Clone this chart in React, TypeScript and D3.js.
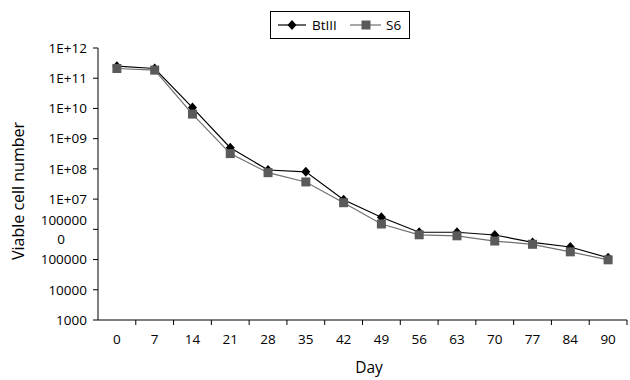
import React from 'react';
import * as d3 from 'd3';

const days = ['0', '7', '14', '21', '28', '35', '42', '49', '56', '63', '70', '77', '84', '90'];
const btIII = [2.5e11, 2.1e11, 1.07e10, 5e8, 9.2e7, 8e7, 9.5e6, 2.5e6, 8e5, 8e5, 6.5e5, 3.7e5, 2.6e5, 1.15e5];
const s6 = [2.1e11, 1.85e11, 6.5e9, 3.2e8, 7.5e7, 3.7e7, 7.6e6, 1.5e6, 6.6e5, 6.1e5, 4.1e5, 3.2e5, 1.8e5, 9.8e4];
const yTicks = [1e3, 1e4, 1e5, 1e6, 1e7, 1e8, 1e9, 1e10, 1e11, 1e12];
const yTickLabels = ['1000', '10000', '100000', '100000\n0', '1E+07', '1E+08', '1E+09', '1E+10', '1E+11', '1E+12'];

const W = 630;
const H = 380;
const m = { left: 98, right: 3, top: 48, bottom: 60 };
const font = '"Open Sans", Lato, sans-serif';
const fs = 13.5;

const App = () => {
  const x = d3.scaleBand().domain(days).range([m.left, W - m.right]);
  const y = d3.scaleLog().domain([1e3, 1e12]).range([H - m.bottom, m.top]);
  const line = d3.line<number>()
    .x((_, i) => (x(days[i]) as number) + x.bandwidth() / 2)
    .y((d) => y(d));
  const cx = (i: number) => (x(days[i]) as number) + x.bandwidth() / 2;
  const y0 = H - m.bottom;

  return (
    <svg width={W} height={H} style={{ position: 'absolute', left: 0, top: 0, background: '#fff' }} fontFamily={font}>
      {/* y axis */}
      <line x1={m.left} x2={m.left} y1={m.top} y2={y0} stroke="#000" />
      {yTicks.map((t, i) => {
        const parts = yTickLabels[i].split('\n');
        return (
          <g key={t}>
            <line x1={m.left - 5} x2={m.left} y1={y(t)} y2={y(t)} stroke="#000" />
            {parts.length === 1 ? (
              <text x={m.left - 11} y={y(t)} dy="0.35em" textAnchor="end" fontSize={fs}>{parts[0]}</text>
            ) : (
              <>
                <text x={m.left - 11} y={y(t) - 9} dy="0.35em" textAnchor="end" fontSize={fs}>{parts[0]}</text>
                <text x={61} y={y(t) + 10} dy="0.35em" textAnchor="middle" fontSize={fs}>{parts[1]}</text>
              </>
            )}
          </g>
        );
      })}
      {/* x axis */}
      <line x1={m.left} x2={W - m.right} y1={y0} y2={y0} stroke="#000" />
      {days.map((d, i) => (
        <g key={d}>
          <line x1={(x(d) as number) + x.bandwidth()} x2={(x(d) as number) + x.bandwidth()} y1={y0} y2={y0 + 5} stroke="#000" />
          <text x={cx(i)} y={y0 + 24} textAnchor="middle" fontSize={fs}>{d}</text>
        </g>
      ))}
      <text x={369} y={y0 + 53} textAnchor="middle" fontSize={15.5}>Day</text>
      <text transform={`translate(24,${(m.top + y0) / 2 + 7}) rotate(-90)`} textAnchor="middle" fontSize={16}>Viable cell number</text>

      {/* series */}
      <path d={line(s6) ?? ''} fill="none" stroke="#707070" strokeWidth={1.2} />
      <path d={line(btIII) ?? ''} fill="none" stroke="#000" strokeWidth={1.2} />
      {btIII.map((v, i) => (
        <path key={'b' + i} d="M0,-5L4.5,0L0,5L-4.5,0Z" transform={`translate(${cx(i)},${y(v)})`} fill="#000" />
      ))}
      {s6.map((v, i) => (
        <rect key={'s' + i} x={cx(i) - 4.5} y={y(v) - 4.5} width={9} height={9} fill="#5a5a5a" />
      ))}

      {/* legend */}
      <rect x={270.5} y={11.5} width={139} height={27} fill="#fff" stroke="#000" />
      <line x1={278} x2={306} y1={25} y2={25} stroke="#000" strokeWidth={1.2} />
      <path d="M0,-5L4.5,0L0,5L-4.5,0Z" transform="translate(292,25)" fill="#000" />
      <text x={312} y={25} dy="0.35em" fontSize={fs}>BtIII</text>
      <line x1={350} x2={381} y1={25} y2={25} stroke="#707070" strokeWidth={1.2} />
      <rect x={361.5} y={20.5} width={9} height={9} fill="#5a5a5a" />
      <text x={386} y={25} dy="0.35em" fontSize={fs}>S6</text>
    </svg>
  );
};

export default App;
